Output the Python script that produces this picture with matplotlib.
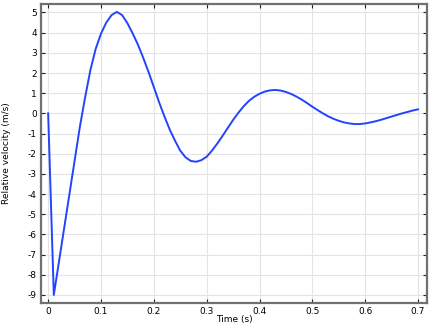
import matplotlib
matplotlib.use("Agg")
import matplotlib.pyplot as plt

time_s = [0.0, 0.0107, 0.02, 0.03, 0.04, 0.05, 0.06, 0.07, 0.08, 0.09,
          0.10, 0.11, 0.12, 0.13, 0.14, 0.15, 0.16, 0.17, 0.18, 0.19,
          0.20, 0.21, 0.22, 0.23, 0.24, 0.25, 0.26, 0.27, 0.28, 0.29,
          0.30, 0.31, 0.32, 0.33, 0.34, 0.35, 0.36, 0.37, 0.38, 0.39,
          0.40, 0.41, 0.42, 0.43, 0.44, 0.45, 0.46, 0.47, 0.48, 0.49,
          0.50, 0.51, 0.52, 0.53, 0.54, 0.55, 0.56, 0.57, 0.58, 0.59,
          0.60, 0.61, 0.62, 0.63, 0.64, 0.65, 0.66, 0.67, 0.68, 0.69, 0.70]
velocity = [0.0, -9.0, -7.43, -5.74, -4.05, -2.36, -0.67, 0.8, 2.15, 3.2,
            3.95, 4.5, 4.87, 5.03, 4.87, 4.47, 3.96, 3.4, 2.75, 2.05,
            1.3, 0.55, -0.15, -0.8, -1.35, -1.85, -2.18, -2.36, -2.4, -2.32,
            -2.15, -1.85, -1.5, -1.12, -0.72, -0.33, 0.03, 0.35, 0.62, 0.82,
            0.97, 1.08, 1.14, 1.16, 1.13, 1.06, 0.96, 0.83, 0.68, 0.51,
            0.33, 0.16, 0.0, -0.15, -0.27, -0.37, -0.45, -0.5, -0.53, -0.53,
            -0.5, -0.45, -0.39, -0.32, -0.24, -0.16, -0.08, 0.0, 0.07, 0.14, 0.2]

x_ticks = [0, 0.1, 0.2, 0.3, 0.4, 0.5, 0.6, 0.7]
x_ticklabels = ["0", "0.1", "0.2", "0.3", "0.4", "0.5", "0.6", "0.7"]
y_ticks = list(range(-9, 6))
y_ticklabels = [str(v) for v in y_ticks]

fig = plt.figure(figsize=(4.35, 3.26), dpi=100)
ax = fig.add_axes([0.0943, 0.0706, 0.8873, 0.9171])
ax.plot(time_s, velocity, color="#2343ff", lw=1.4, solid_joinstyle="round")
ax.set_xlim(-0.0135, 0.717)
ax.set_ylim(-9.4, 5.42)
ax.set_xticks(x_ticks)
ax.set_xticklabels(x_ticklabels)
ax.set_yticks(y_ticks)
ax.set_yticklabels(y_ticklabels)
ax.grid(True, color="#e4e4e4", lw=0.8)
ax.set_axisbelow(True)
ax.tick_params(direction="in", top=True, right=True, length=3, width=0.8,
               labelsize=6.5, color="#222222", pad=3)
for s in ax.spines.values():
    s.set_color("#707070")
    s.set_linewidth(1.6)
ax.set_xlabel("Time (s)", fontsize=6.5, labelpad=-1)
ax.set_ylabel("Relative velocity (m/s)", fontsize=6.5, labelpad=12)
fig.savefig("out.png", dpi=100)
